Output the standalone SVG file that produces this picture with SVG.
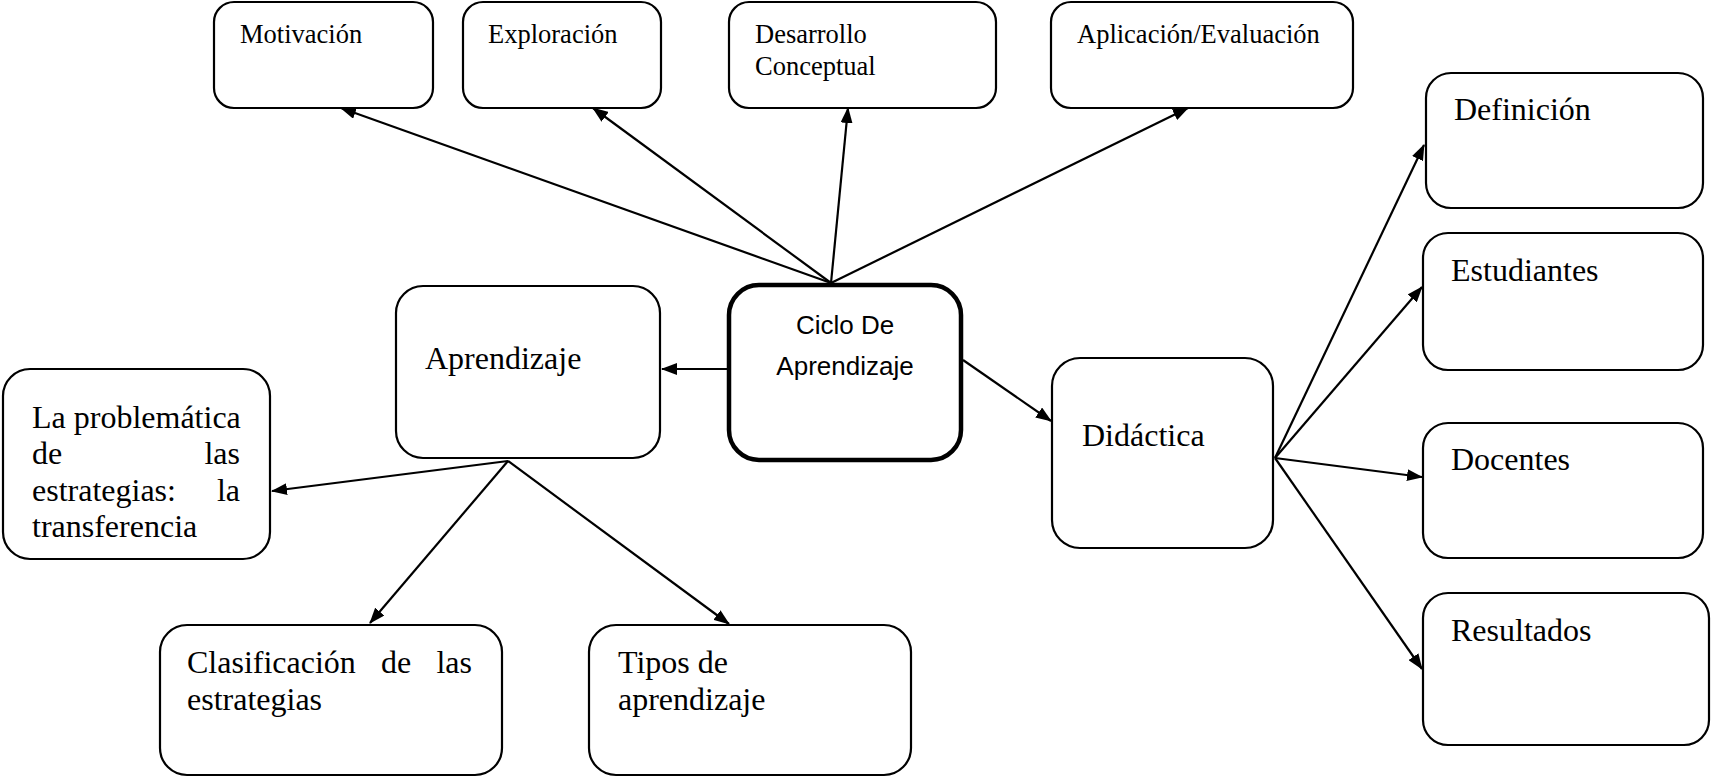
<svg xmlns="http://www.w3.org/2000/svg" width="1712" height="778" viewBox="0 0 1712 778">
<style>
.box{fill:#fff;stroke:#000;stroke-width:2.2}
.thick{fill:#fff;stroke:#000;stroke-width:4.5}
.t{font-family:"Liberation Serif","Times New Roman",serif;font-size:32px;fill:#000}
.s{font-family:"Liberation Serif","Times New Roman",serif;font-size:26.5px;fill:#000}
.c{font-family:"Liberation Sans",Arial,sans-serif;font-size:26px;fill:#000;text-anchor:middle}
.ln{stroke:#000;stroke-width:2.2;fill:none;marker-end:url(#ah)}
</style>
<defs>
<marker id="ah" markerUnits="userSpaceOnUse" markerWidth="16" markerHeight="12" refX="15" refY="6" orient="auto">
<path d="M0,0 L16,6 L0,12 z" fill="#000"/>
</marker>
</defs>
<rect width="1712" height="778" fill="#fff"/>
<g id="connectors">
<line class="ln" x1="831" y1="283" x2="341" y2="108"/>
<line class="ln" x1="831" y1="283" x2="593" y2="108"/>
<line class="ln" x1="831" y1="283" x2="848" y2="108"/>
<line class="ln" x1="831" y1="283" x2="1188" y2="108"/>
<line class="ln" x1="727" y1="369" x2="662" y2="369"/>
<line class="ln" x1="963" y1="360" x2="1051" y2="421"/>
<line class="ln" x1="508" y1="461" x2="272" y2="491"/>
<line class="ln" x1="508" y1="461" x2="370" y2="623"/>
<line class="ln" x1="508" y1="461" x2="729" y2="624"/>
<line class="ln" x1="1275" y1="458" x2="1424" y2="145"/>
<line class="ln" x1="1275" y1="458" x2="1422" y2="287"/>
<line class="ln" x1="1275" y1="458" x2="1422" y2="477"/>
<line class="ln" x1="1275" y1="458" x2="1422" y2="669"/>
</g>
<g id="motivacion">
<rect class="box" x="214" y="2" width="219" height="106" rx="20"/>
<text class="s" x="240" y="43">Motivación</text>
</g>
<g id="exploracion">
<rect class="box" x="463" y="2" width="198" height="106" rx="20"/>
<text class="s" x="488" y="43">Exploración</text>
</g>
<g id="desarrollo">
<rect class="box" x="729" y="2" width="267" height="106" rx="20"/>
<text class="s" x="755" y="43">Desarrollo</text>
<text class="s" x="755" y="75">Conceptual</text>
</g>
<g id="aplicacion">
<rect class="box" x="1051" y="2" width="302" height="106" rx="20"/>
<text class="s" x="1077" y="43">Aplicación/Evaluación</text>
</g>
<g id="ciclo">
<rect class="thick" x="729" y="285" width="232" height="175" rx="30"/>
<text class="c" x="845" y="334">Ciclo De</text>
<text class="c" x="845" y="375">Aprendizaje</text>
</g>
<g id="aprendizaje">
<rect class="box" x="396" y="286" width="264" height="172" rx="27"/>
<text class="t" x="425" y="369">Aprendizaje</text>
</g>
<g id="problematica">
<rect class="box" x="3" y="369" width="267" height="190" rx="27"/>
<text class="t" x="32" y="428">La problemática</text>
<text class="t" x="32" y="464">de</text>
<text class="t" x="240" y="464" text-anchor="end">las</text>
<text class="t" x="32" y="501">estrategias:</text>
<text class="t" x="240" y="501" text-anchor="end">la</text>
<text class="t" x="32" y="537">transferencia</text>
</g>
<g id="clasificacion">
<rect class="box" x="160" y="625" width="342" height="150" rx="27"/>
<text class="t" x="187" y="673">Clasificación</text>
<text class="t" x="381" y="673">de</text>
<text class="t" x="472" y="673" text-anchor="end">las</text>
<text class="t" x="187" y="710">estrategias</text>
</g>
<g id="tipos">
<rect class="box" x="589" y="625" width="322" height="150" rx="27"/>
<text class="t" x="618" y="673">Tipos de</text>
<text class="t" x="618" y="710">aprendizaje</text>
</g>
<g id="didactica">
<rect class="box" x="1052" y="358" width="221" height="190" rx="28"/>
<text class="t" x="1082" y="446">Didáctica</text>
</g>
<g id="definicion">
<rect class="box" x="1426" y="73" width="277" height="135" rx="25"/>
<text class="t" x="1454" y="120">Definición</text>
</g>
<g id="estudiantes">
<rect class="box" x="1423" y="233" width="280" height="137" rx="25"/>
<text class="t" x="1451" y="281">Estudiantes</text>
</g>
<g id="docentes">
<rect class="box" x="1423" y="423" width="280" height="135" rx="25"/>
<text class="t" x="1451" y="470">Docentes</text>
</g>
<g id="resultados">
<rect class="box" x="1423" y="593" width="286" height="152" rx="25"/>
<text class="t" x="1451" y="641">Resultados</text>
</g>
</svg>
